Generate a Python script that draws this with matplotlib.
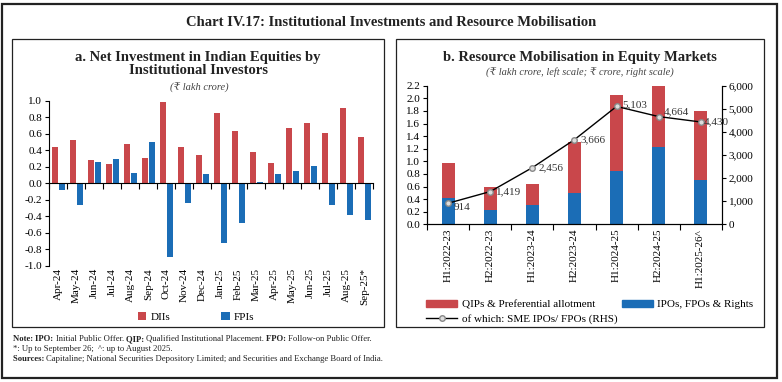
import numpy as np
import matplotlib
matplotlib.use('Agg')
import matplotlib.pyplot as plt
from matplotlib.patches import Rectangle, Patch
from matplotlib.lines import Line2D

plt.rcParams.update({
    'font.family': ['Liberation Serif', 'DejaVu Serif', 'DejaVu Sans'],
    'font.size': 8,
    'axes.linewidth': 0.8,
})

# ---- data: panel a ----
months = ['Apr-24', 'May-24', 'Jun-24', 'Jul-24', 'Aug-24', 'Sep-24', 'Oct-24', 'Nov-24',
          'Dec-24', 'Jan-25', 'Feb-25', 'Mar-25', 'Apr-25', 'May-25', 'Jun-25', 'Jul-25',
          'Aug-25', 'Sep-25*']
diis = [0.44, 0.52, 0.28, 0.23, 0.48, 0.30, 0.99, 0.44, 0.34, 0.85, 0.63, 0.38,
        0.25, 0.67, 0.73, 0.61, 0.91, 0.56]
fpis = [-0.08, -0.26, 0.26, 0.29, 0.12, 0.50, -0.89, -0.24, 0.11, -0.73, -0.48, 0.02,
        0.11, 0.15, 0.21, -0.26, -0.38, -0.44]

# ---- data: panel b ----
halves = ['H1:2022-23', 'H2:2022-23', 'H1:2023-24', 'H2:2023-24', 'H1:2024-25',
          'H2:2024-25', 'H1:2025-26^']
ipos = [0.41, 0.22, 0.30, 0.50, 0.85, 1.22, 0.71]
total = [0.97, 0.59, 0.64, 1.31, 2.05, 2.21, 1.80]
qips = [t - i for t, i in zip(total, ipos)]
sme = [914, 1419, 2456, 3666, 5103, 4664, 4430]

RED = '#C9474B'
BLUE = '#1B6DB6'
W, H = 782, 382

fig = plt.figure(figsize=(W / 100, H / 100), dpi=100)


def px_axes(l, t, r, b):
    return fig.add_axes([l / W, 1 - b / H, (r - l) / W, (b - t) / H])


def fmt1(v):
    return f'{np.round(v, 1) + 0.0:.1f}'


# frames
fig.patches.append(Rectangle((2 / W, 4 / H), 775 / W, 374 / H, transform=fig.transFigure,
                             fill=False, lw=1.6, ec='#222222'))
for l, r in [(11.7, 384.3), (395.7, 764.3)]:
    fig.patches.append(Rectangle((l / W, 1 - 326.7 / H), (r - l) / W, (326.7 - 39.3) / H,
                                 transform=fig.transFigure, fill=False, lw=0.9, ec='#222222'))

fig.text(0.5, 1 - 22 / H, 'Chart IV.17: Institutional Investments and Resource Mobilisation',
         ha='center', va='center', fontsize=10.5, fontweight='bold', color='#222222')

# ---------- panel a ----------
ax = px_axes(49.3, 100.7, 373.3, 265.7)
x = np.arange(len(months))
ax.bar(x - 0.19, diis, width=0.32, color=RED, label='DIIs')
ax.bar(x + 0.19, fpis, width=0.32, color=BLUE, label='FPIs')
ax.set_xlim(-0.5, len(months) - 0.5)
ax.set_ylim(-1.0, 1.0)
yt = np.arange(-1.0, 1.01, 0.2)
ax.set_yticks(yt)
ax.set_yticklabels([fmt1(v) for v in yt])
for s in ['top', 'right']:
    ax.spines[s].set_visible(False)
ax.spines['bottom'].set_position(('data', 0))
ax.set_xticks(np.arange(-0.5, len(months), 1.0))
ax.set_xticklabels([])
ax.tick_params(axis='x', length=4, direction='out', width=0.8)
ax.tick_params(axis='y', length=3, width=0.8, labelsize=8, pad=2)
for i, m in enumerate(months):
    ax.text(i, -1.03, m, rotation=90, ha='center', va='top', fontsize=8)
ax.legend(loc='center', bbox_to_anchor=(196 / W, 1 - 317 / H), bbox_transform=fig.transFigure,
          ncol=2, frameon=False, fontsize=8, handlelength=0.8, handleheight=0.8,
          columnspacing=4.5, handletextpad=0.4)

fig.text(198 / W, 1 - 64 / H, 'a. Net Investment in Indian Equities by\nInstitutional Investors',
         ha='center', va='center', fontsize=10.5, fontweight='bold', color='#222222',
         linespacing=1.05)
fig.text(199 / W, 1 - 88 / H, '(₹ lakh crore)', ha='center', va='center', fontsize=7.5,
         style='italic', color='#444444')

# ---------- panel b ----------
bx = px_axes(427.3, 85.7, 721.7, 224.3)
xb = np.arange(len(halves))
bx.bar(xb, ipos, width=0.32, color=BLUE)
bx.bar(xb, qips, width=0.32, bottom=ipos, color=RED)
bx.set_xlim(-0.5, len(halves) - 0.5)
bx.set_ylim(0, 2.2)
yb = np.arange(0, 2.21, 0.2)
bx.set_yticks(yb)
bx.set_yticklabels([fmt1(v) for v in yb])
bx.spines['top'].set_visible(False)
bx.set_xticks(np.arange(-0.5, len(halves), 1.0))
bx.set_xticklabels([])
bx.tick_params(axis='x', length=4, width=0.8)
bx.tick_params(axis='y', length=3, width=0.8, labelsize=8, pad=2)
for i, h in enumerate(halves):
    bx.text(i, -0.07, h, rotation=90, ha='center', va='top', fontsize=8)

rx = bx.twinx()
rx.plot(xb, sme, color='black', lw=1.0, marker='o', markersize=4,
        markerfacecolor='#dddddd', markeredgecolor='#888888', mew=1.0)
rx.set_ylim(0, 6000)
rx.set_yticks(np.arange(0, 6001, 1000))
rx.set_yticklabels([f'{v:,}' for v in range(0, 6001, 1000)])
rx.spines['top'].set_visible(False)
rx.tick_params(axis='y', length=3, width=0.8, labelsize=8, pad=2)
offsets = [(5, -4), (6, 0), (6, 0), (6, 0), (6, 2), (5, 5), (3, 0)]
for xi, v, (dx, dy) in zip(xb, sme, offsets):
    rx.annotate(f'{v:,}', (xi, v), xytext=(dx, dy), textcoords='offset pixels',
                ha='left', va='center', fontsize=8, color='#333333')

handles = [Patch(color=RED, label='QIPs & Preferential allotment'),
           Line2D([], [], color='black', lw=1.0, marker='o', markersize=4,
                  markerfacecolor='#dddddd', markeredgecolor='#888888',
                  label='of which: SME IPOs/ FPOs (RHS)'),
           Patch(color=BLUE, label='IPOs, FPOs & Rights')]
fig.legend(handles=handles, loc='upper left', bbox_to_anchor=(416 / W, 1 - 290 / H),
           ncol=2, frameon=False, fontsize=8, handlelength=2.8, handleheight=0.6,
           columnspacing=0.4, handletextpad=0.4, labelspacing=0.45)

fig.text(580 / W, 1 - 57 / H, 'b. Resource Mobilisation in Equity Markets', ha='center',
         va='center', fontsize=10.5, fontweight='bold', color='#222222')
fig.text(580 / W, 1 - 73 / H, '(₹ lakh crore, left scale; ₹ crore, right scale)',
         ha='center', va='center', fontsize=7.5, style='italic', color='#444444')

# ---------- notes ----------
renderer = fig.canvas.get_renderer()


def rich_line(y, parts):
    xpos = 13 / W
    for txt, bold in parts:
        t = fig.text(xpos, 1 - y / H, txt, ha='left', va='center', fontsize=6.2,
                     fontweight='bold' if bold else 'normal', color='#222222')
        bb = t.get_window_extent(renderer)
        xpos += bb.width / W


rich_line(339, [('Note: ', True), ('IPO: ', True), ('Initial Public Offer. ', False),
                ('QIP: ', True), ('Qualified Institutional Placement. ', False),
                ('FPO: ', True), ('Follow-on Public Offer.', False)])
rich_line(349, [('*: Up to September 26;  ^: up to August 2025.', False)])
rich_line(359, [('Sources: ', True),
                ('Capitaline; National Securities Depository Limited; and Securities and Exchange Board of India.', False)])

fig.savefig('out.png', dpi=100)
